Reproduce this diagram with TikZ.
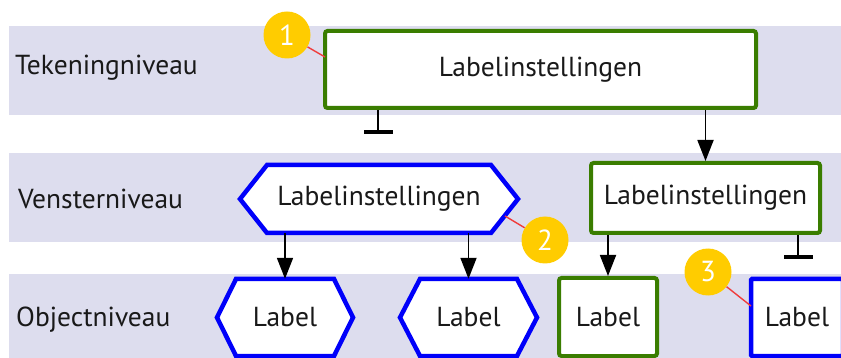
\documentclass[tikz,border=0pt]{standalone}
\usepackage{fontspec}
\setmainfont{PT Sans}
\usetikzlibrary{arrows.meta,calc}
\definecolor{band}{RGB}{221,221,238}
\definecolor{grn}{RGB}{58,125,0}
\definecolor{blu}{RGB}{0,0,250}
\definecolor{gold}{RGB}{255,204,0}
\definecolor{ink}{RGB}{25,25,25}
\definecolor{callred}{RGB}{240,60,60}
\newcommand\hexa[7]{%
  \draw[hexline] (#2-#4,#3) -- (#2-#4+#6,#3-#5) -- (#2+#4-#6,#3-#5) -- (#2+#4,#3) -- (#2+#4-#6,#3+#5) -- (#2-#4+#6,#3+#5) -- cycle;
  \node[txt, minimum width=2*#4pt, minimum height=2*#5pt] (#1) at (#2,#3) {#7};}
\begin{document}
\begin{tikzpicture}[x=1pt,y=-1pt,
  txt/.style={font=\fontsize{27.5}{32}\selectfont, text=ink, inner sep=0pt},
  bandlabel/.style={txt, anchor=west},
  greenbox/.style={txt, draw=grn, line width=4pt, fill=white, rounded corners=2.5pt},
  bluebox/.style={txt, draw=blu, line width=4.5pt, fill=white, rounded corners=1pt},
  hexline/.style={draw=blu, line width=4.5pt, fill=white, line join=miter},
  arr/.style={draw=black, line width=1.8pt, -{Triangle[length=21pt,width=16pt]}},
  inhib/.style={draw=black, line width=1.8pt, -{Bar[width=29pt,line width=3.5pt]}},
  num/.style={circle, fill=gold, minimum size=47pt, inner sep=0pt, text=white, font=\fontsize{29}{30}\selectfont},
  callout/.style={draw=callred, line width=1.4pt}]
\useasboundingbox (0,0) rectangle (841,358);
% bands
\fill[band] (9,26) rectangle (841,115);
\fill[band] (9,153) rectangle (841,242);
\fill[band] (9,274) rectangle (841,358);
\node[bandlabel] (l1) at (15,68) {Tekeningniveau};
\node[bandlabel] (l2) at (18,199) {Vensterniveau};
\node[bandlabel] (l3) at (16,320) {Objectniveau};
% drawing level
\node[greenbox, minimum width=431pt, minimum height=77pt] (b1) at (540.5,69.5) {Labelinstellingen};
% window level
\hexa{hv}{379}{199}{139}{34}{27}{Labelinstellingen}
\node[greenbox, minimum width=229pt, minimum height=70pt] (rv) at (705.5,198) {Labelinstellingen};
% object level
\hexa{hl1}{285}{317.5}{68}{38.5}{19}{Label}
\hexa{hl2}{468.5}{317.5}{68.5}{38.5}{20}{Label}
\node[greenbox, minimum width=98pt, minimum height=78pt] (gl) at (608,317) {Label};
\node[bluebox, minimum width=92pt, minimum height=77pt] (bl) at (797,317.5) {Label};
% connectors
\draw[arr] (b1.south -| rv.north) -- (rv.north);
\draw[arr] (hv.south -| hl1.north) -- (hl1.north);
\draw[arr] (hv.south -| hl2.north) -- (hl2.north);
\draw[arr] (rv.south -| gl.north) -- (gl.north);
\coordinate (t1) at (378,134);
\coordinate (t2) at (798,259);
\draw[inhib] (b1.south -| t1) -- (t1);
\draw[inhib] (rv.south -| t2) -- (t2);
% callouts
\node[num] (c1) at (287,35) {1};
\node[num] (c2) at (545,240) {2};
\node[num] (c3) at (708,272) {3};
\coordinate (p1) at (325,57);
\coordinate (p2) at (505,216);
\coordinate (p3) at (751,306);
\draw[callout] (c1) -- (p1);
\draw[callout] (c2) -- (p2);
\draw[callout] (c3) -- (p3);
\end{tikzpicture}
\end{document}
